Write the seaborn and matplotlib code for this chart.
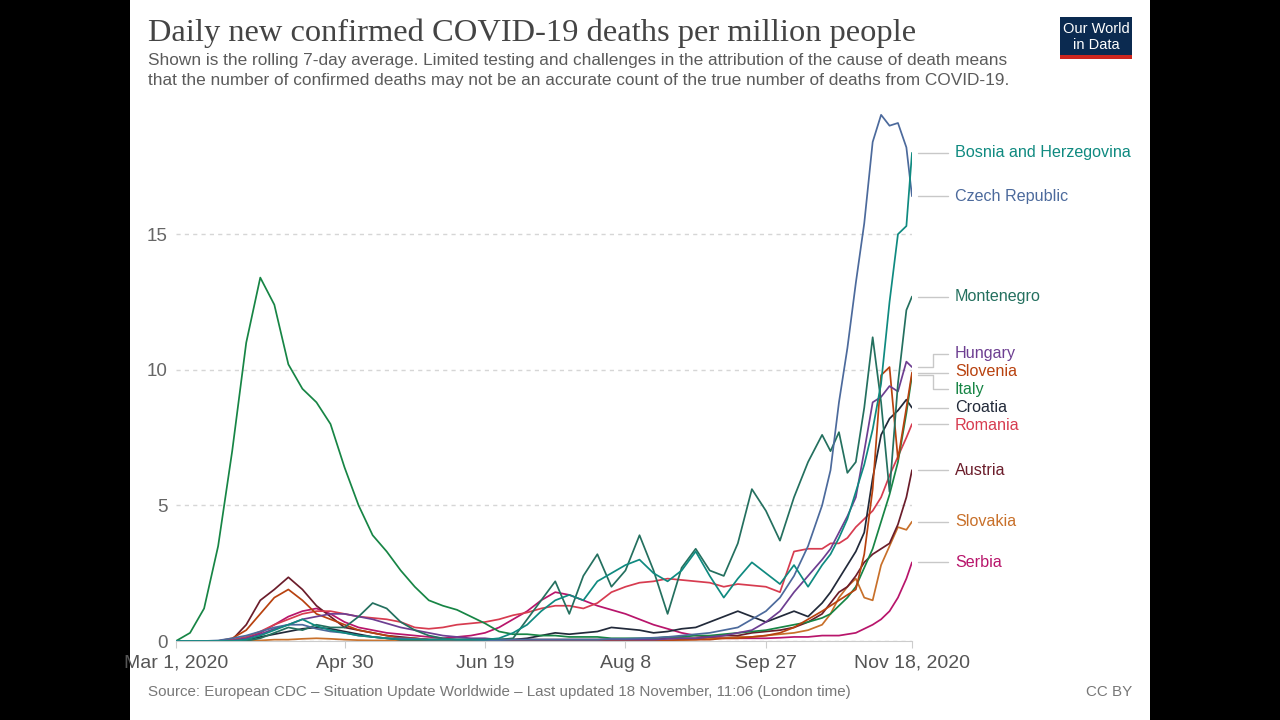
import pandas as pd
import matplotlib
matplotlib.use('Agg')
import matplotlib.pyplot as plt
import seaborn as sns
from matplotlib.patches import Rectangle

# grille des jours depuis le 1er mars 2020 (plus serrée à la fin)
days = [0, 5, 10, 15, 20, 25, 30, 35, 40, 45,
        50, 55, 60, 65, 70, 75, 80, 85, 90, 95,
        100, 105, 110, 115, 120, 125, 130, 135, 140, 145,
        150, 155, 160, 165, 170, 175, 180, 185, 190, 195,
        200, 205, 210, 215, 220, 225, 230,
        233, 236, 239, 242, 245, 248, 251, 254, 257, 260, 262]

italy = [0.0, 0.3, 1.2, 3.5, 7.0, 11.0, 13.4, 12.4, 10.2, 9.3,
         8.8, 8.0, 6.4, 5.0, 3.9, 3.3, 2.6, 2.0, 1.5, 1.3,
         1.15, 0.9, 0.65, 0.35, 0.25, 0.25, 0.2, 0.2, 0.15, 0.15,
         0.15, 0.1, 0.1, 0.1, 0.1, 0.15, 0.15, 0.2, 0.2, 0.25,
         0.3, 0.35, 0.4, 0.5, 0.6, 0.7, 0.85,
         1.0, 1.3, 1.6, 2.0, 2.7, 3.4, 4.4, 5.4, 6.6, 8.4, 9.8]
czech = [0, 0, 0, 0.02, 0.1, 0.2, 0.35, 0.5, 0.6, 0.6,
         0.45, 0.35, 0.3, 0.2, 0.15, 0.1, 0.1, 0.08, 0.05, 0.05,
         0.05, 0.05, 0.03, 0.03, 0.05, 0.05, 0.05, 0.05, 0.05, 0.05,
         0.05, 0.08, 0.08, 0.1, 0.12, 0.15, 0.2, 0.25, 0.3, 0.4,
         0.5, 0.8, 1.1, 1.6, 2.4, 3.5, 5.0,
         6.3, 8.8, 10.8, 13.2, 15.4, 18.4, 19.4, 19.0, 19.1, 18.2, 16.4]
bosnia = [0, 0, 0, 0, 0, 0.05, 0.2, 0.4, 0.6, 0.8,
          0.55, 0.4, 0.3, 0.2, 0.15, 0.1, 0.05, 0.05, 0.05, 0.05,
          0.05, 0.05, 0.05, 0.1, 0.3, 0.6, 1.1, 1.5, 1.7, 1.5,
          2.2, 2.5, 2.8, 3.0, 2.5, 2.2, 2.6, 3.3, 2.4, 1.6,
          2.3, 2.9, 2.5, 2.1, 2.8, 2.0, 2.8,
          3.2, 3.8, 4.5, 5.5, 6.5, 7.8, 9.5, 12.5, 15.0, 15.3, 18.0]
montenegro = [0, 0, 0, 0, 0, 0, 0.1, 0.3, 0.5, 0.4,
              0.6, 0.5, 0.5, 0.9, 1.4, 1.2, 0.7, 0.4, 0.2, 0.1,
              0.05, 0.05, 0.05, 0.05, 0.1, 0.8, 1.5, 2.2, 1.0, 2.4,
              3.2, 2.0, 2.6, 3.9, 2.6, 1.0, 2.7, 3.4, 2.6, 2.4,
              3.6, 5.6, 4.8, 3.7, 5.3, 6.6, 7.6,
              7.0, 7.7, 6.2, 6.6, 8.6, 11.2, 8.8, 5.5, 9.5, 12.2, 12.7]
hungary = [0, 0, 0, 0, 0.02, 0.1, 0.25, 0.45, 0.6, 0.8,
           0.9, 1.0, 1.0, 0.9, 0.8, 0.65, 0.5, 0.4, 0.3, 0.2,
           0.15, 0.1, 0.1, 0.05, 0.05, 0.05, 0.05, 0.05, 0.05, 0.05,
           0.05, 0.05, 0.05, 0.05, 0.05, 0.08, 0.1, 0.1, 0.15, 0.2,
           0.3, 0.4, 0.7, 1.1, 1.8, 2.4, 3.0,
           3.4, 4.0, 4.6, 5.3, 7.0, 8.8, 9.0, 9.4, 9.2, 10.3, 10.1]
slovenia = [0, 0, 0, 0, 0.1, 0.4, 1.0, 1.6, 1.9, 1.5,
            1.0, 0.8, 0.6, 0.4, 0.3, 0.2, 0.1, 0.1, 0.05, 0.03,
            0.02, 0.02, 0.02, 0.02, 0.02, 0.02, 0.02, 0.02, 0.02, 0.02,
            0.02, 0.02, 0.02, 0.02, 0.02, 0.02, 0.05, 0.05, 0.05, 0.1,
            0.1, 0.15, 0.2, 0.3, 0.5, 0.8, 1.1,
            1.3, 1.5, 1.7, 1.9, 3.2, 5.6, 9.8, 10.1, 6.7, 8.6, 9.9]
croatia = [0, 0, 0, 0, 0, 0.05, 0.15, 0.25, 0.35, 0.45,
           0.5, 0.45, 0.35, 0.25, 0.15, 0.1, 0.05, 0.05, 0.05, 0.05,
           0.05, 0.05, 0.05, 0.05, 0.05, 0.1, 0.2, 0.3, 0.25, 0.3,
           0.35, 0.5, 0.45, 0.4, 0.3, 0.35, 0.45, 0.5, 0.7, 0.9,
           1.1, 0.9, 0.7, 0.9, 1.1, 0.9, 1.4,
           1.8, 2.3, 2.8, 3.3, 4.0, 6.0, 7.6, 8.2, 8.5, 8.9, 8.6]
romania = [0, 0, 0, 0, 0.05, 0.15, 0.35, 0.6, 0.8, 1.0,
           1.1, 1.1, 1.0, 0.9, 0.85, 0.8, 0.7, 0.5, 0.45, 0.5,
           0.6, 0.65, 0.7, 0.8, 0.95, 1.05, 1.2, 1.3, 1.3, 1.2,
           1.4, 1.8, 2.0, 2.15, 2.2, 2.3, 2.25, 2.2, 2.15, 2.0,
           2.1, 2.05, 2.0, 1.8, 3.3, 3.4, 3.4,
           3.6, 3.6, 3.8, 4.2, 4.5, 4.8, 5.3, 6.1, 6.8, 7.5, 8.0]
austria = [0, 0, 0, 0, 0.05, 0.6, 1.5, 1.9, 2.35, 1.9,
           1.3, 0.9, 0.5, 0.4, 0.3, 0.2, 0.15, 0.1, 0.05, 0.05,
           0.05, 0.05, 0.05, 0.05, 0.05, 0.05, 0.05, 0.05, 0.05, 0.05,
           0.05, 0.05, 0.05, 0.05, 0.05, 0.1, 0.1, 0.1, 0.15, 0.2,
           0.2, 0.3, 0.35, 0.4, 0.5, 0.7, 1.0,
           1.4, 1.8, 2.0, 2.4, 2.9, 3.2, 3.4, 3.6, 4.3, 5.3, 6.3]
slovakia = [0, 0, 0, 0, 0, 0, 0.02, 0.05, 0.05, 0.08,
            0.1, 0.08, 0.05, 0.03, 0.02, 0.02, 0.02, 0.02, 0.02, 0.02,
            0.02, 0.02, 0.02, 0.02, 0.02, 0.02, 0.02, 0.02, 0.02, 0.02,
            0.03, 0.03, 0.03, 0.03, 0.03, 0.03, 0.03, 0.05, 0.1, 0.1,
            0.15, 0.15, 0.2, 0.25, 0.3, 0.4, 0.6,
            1.0, 1.6, 2.0, 2.3, 1.6, 1.5, 2.8, 3.5, 4.2, 4.1, 4.4]
serbia = [0, 0, 0, 0, 0.02, 0.1, 0.3, 0.6, 0.9, 1.1,
          1.2, 1.0, 0.7, 0.5, 0.4, 0.3, 0.25, 0.2, 0.15, 0.1,
          0.15, 0.2, 0.3, 0.5, 0.8, 1.1, 1.5, 1.8, 1.7, 1.5,
          1.3, 1.15, 1.0, 0.8, 0.6, 0.45, 0.3, 0.2, 0.15, 0.1,
          0.1, 0.1, 0.1, 0.12, 0.15, 0.15, 0.2,
          0.2, 0.2, 0.25, 0.3, 0.45, 0.6, 0.8, 1.1, 1.6, 2.3, 2.9]

countries = ['Bosnia and Herzegovina', 'Czech Republic', 'Montenegro', 'Hungary',
             'Slovenia', 'Italy', 'Croatia', 'Romania', 'Austria', 'Slovakia', 'Serbia']
series = [bosnia, czech, montenegro, hungary, slovenia, italy, croatia,
          romania, austria, slovakia, serbia]
colors = ['#0f8a80', '#4c6a9c', '#24705f', '#6d3e91', '#b8420f', '#178545',
          '#222a3a', '#d73c50', '#6b1d2b', '#c8702a', '#b8156b']

tick_dates = ['2020-03-01', '2020-04-30', '2020-06-19', '2020-08-08', '2020-09-27', '2020-11-18']
tick_labels = ['Mar 1, 2020', 'Apr 30', 'Jun 19', 'Aug 8', 'Sep 27', 'Nov 18, 2020']
start = pd.Timestamp('2020-03-01')
tick_days = [(pd.Timestamp(d) - start).days for d in tick_dates]

rows = []
for name, vals in zip(countries, series):
    for d, v in zip(days, vals):
        rows.append({'day': d, 'value': v, 'country': name})
df = pd.DataFrame(rows)
palette = dict(zip(countries, colors))

sns.set_style('white')
plt.rcParams['font.family'] = ['Liberation Sans', 'DejaVu Sans']

W, H = 1280, 720
fig = plt.figure(figsize=(12.8, 7.2), dpi=100)
fig.patch.set_facecolor('black')
fig.patches.append(Rectangle((130 / W, 0), 1020 / W, 1, transform=fig.transFigure,
                             facecolor='white', edgecolor='none', zorder=-10))

ax = fig.add_axes([176 / W, 1 - 641 / H, 736 / W, (641 - 104) / H])
ax.set_zorder(1)
ax.set_facecolor('none')
sns.lineplot(data=df, x='day', y='value', hue='country', hue_order=countries[::-1],
             palette=palette, legend=False, linewidth=1.25, ax=ax)

ax.set_xlim(0, 262)
ax.set_ylim(0, 19.8)
ax.set_xlabel('')
ax.set_ylabel('')
ax.set_yticks([0, 5, 10, 15])
ax.set_xticks(tick_days)
ax.set_xticklabels(tick_labels)
ax.yaxis.grid(True, color='#d6d6d6', linestyle=(0, (3, 3)), linewidth=1)
ax.xaxis.grid(False)
for s in ['top', 'right', 'left']:
    ax.spines[s].set_visible(False)
ax.spines['bottom'].set_color('#cccccc')
ax.tick_params(axis='y', length=0, pad=6, labelcolor='#666666', labelsize=13.5)
ax.tick_params(axis='x', length=5, color='#cccccc', direction='out', bottom=True,
               pad=5, labelcolor='#555555', labelsize=14)


# étiquettes à droite : espacement simple pour éviter les chevauchements
def spread_labels(vals, gap):
    order = sorted(range(len(vals)), key=lambda i: -vals[i])
    groups = [[i] for i in order]

    def place(g):
        c = sum(vals[i] for i in g) / len(g)
        top = c + (len(g) - 1) * gap / 2
        return {i: top - k * gap for k, i in enumerate(g)}

    changed = True
    while changed:
        changed = False
        for j in range(len(groups) - 1):
            a, b = place(groups[j]), place(groups[j + 1])
            if a[groups[j][-1]] - b[groups[j + 1][0]] < gap:
                groups[j] = groups[j] + groups[j + 1]
                del groups[j + 1]
                changed = True
                break
    pos = {}
    for g in groups:
        pos.update(place(g))
    return [pos[i] for i in range(len(vals))]


end_vals = [s[-1] for s in series]
label_y = spread_labels(end_vals, 0.66)
x_end = days[-1]
for name, col, yv, ly in zip(countries, colors, end_vals, label_y):
    if abs(ly - yv) < 0.05:
        ax.plot([x_end + 2.2, x_end + 12.8], [yv, yv], color='#c8c8c8', lw=1, clip_on=False)
    else:
        ax.plot([x_end + 2.2, x_end + 7.5, x_end + 7.5, x_end + 12.8], [yv, yv, ly, ly],
                color='#c8c8c8', lw=1, clip_on=False)
    ax.text(x_end + 15.3, ly, name, color=col, fontsize=11.6, va='center', ha='left',
            clip_on=False)

# titre et sous-titre
fig.text(148 / W, 1 - 33 / H, 'Daily new confirmed COVID-19 deaths per million people',
         family=['Liberation Serif', 'DejaVu Serif'], fontsize=23.4, color='#444444', va='center')
fig.text(148 / W, 1 - 60 / H, 'Shown is the rolling 7-day average. Limited testing and challenges '
         'in the attribution of the cause of death means', fontsize=12.4, color='#5b5b5b', va='center')
fig.text(148 / W, 1 - 81 / H, 'that the number of confirmed deaths may not be an accurate count '
         'of the true number of deaths from COVID-19.', fontsize=12.4, color='#5b5b5b', va='center')

# logo
fig.patches.append(Rectangle((1060 / W, 1 - 55 / H), 72 / W, 38 / H, transform=fig.transFigure,
                             facecolor='#0b2a50', edgecolor='none', zorder=2))
fig.patches.append(Rectangle((1060 / W, 1 - 59 / H), 72 / W, 4 / H, transform=fig.transFigure,
                             facecolor='#ce261e', edgecolor='none', zorder=2))
fig.text(1096 / W, 1 - 29 / H, 'Our World', color='white', fontsize=10.5, ha='center', va='center', zorder=3)
fig.text(1096 / W, 1 - 45 / H, 'in Data', color='white', fontsize=10.5, ha='center', va='center', zorder=3)

# source
fig.text(148 / W, 1 - 692 / H, 'Source: European CDC – Situation Update Worldwide – Last updated '
         '18 November, 11:06 (London time)', fontsize=10.9, color='#777777', va='center')
fig.text(1132 / W, 1 - 692 / H, 'CC BY', fontsize=10.9, color='#777777', va='center', ha='right')

fig.savefig('out.png', dpi=100, facecolor=fig.get_facecolor())
